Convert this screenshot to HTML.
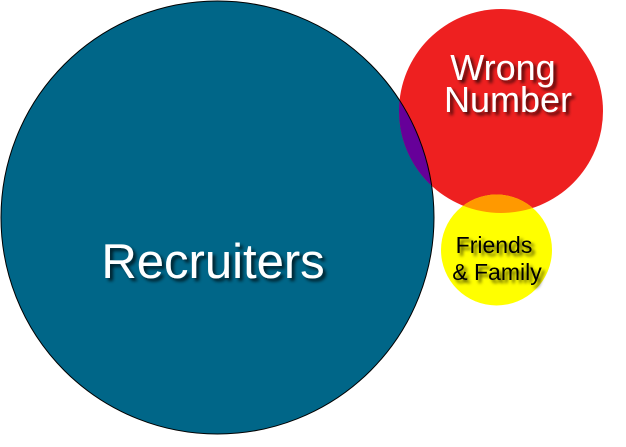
<!DOCTYPE html>
<html><head><style>html,body{margin:0;padding:0;background:#fff}</style></head>
<body>
<svg width="626" height="442" viewBox="0 0 626 442" xmlns="http://www.w3.org/2000/svg">
<defs>
<clipPath id="cb"><circle cx="217.5" cy="217.5" r="216.5"/></clipPath>
<clipPath id="cr"><circle cx="501" cy="111" r="102"/></clipPath>
<filter id="sh" x="-20%" y="-20%" width="140%" height="160%"><feDropShadow dx="3" dy="3" stdDeviation="1.5" flood-color="#000" flood-opacity="0.7"/></filter>
</defs>
<circle cx="217.5" cy="217.5" r="216.5" fill="#006688" stroke="#000" stroke-width="1"/>
<circle cx="501" cy="111" r="102" fill="#ee2020"/>
<circle cx="501" cy="111" r="102" fill="#660099" clip-path="url(#cb)"/>
<circle cx="217.5" cy="217.5" r="216.5" fill="none" stroke="#000" stroke-width="1" clip-path="url(#cr)"/>
<circle cx="496.5" cy="250" r="55.5" fill="#ffff00"/>
<circle cx="496.5" cy="250" r="55.5" fill="#ff9900" clip-path="url(#cr)"/>
<g font-family="Liberation Sans, sans-serif" text-anchor="middle" filter="url(#sh)">
<text x="503" y="80" font-size="36" fill="#fff">Wrong</text>
<text x="508" y="112" font-size="36" fill="#fff">Number</text>
<text x="213" y="278" font-size="49" fill="#fff">Recruiters</text>
<text x="494" y="253" font-size="23" fill="#000">Friends</text>
<text x="497" y="280" font-size="23" fill="#000">&amp; Family</text>
</g>
</svg>
</body></html>
